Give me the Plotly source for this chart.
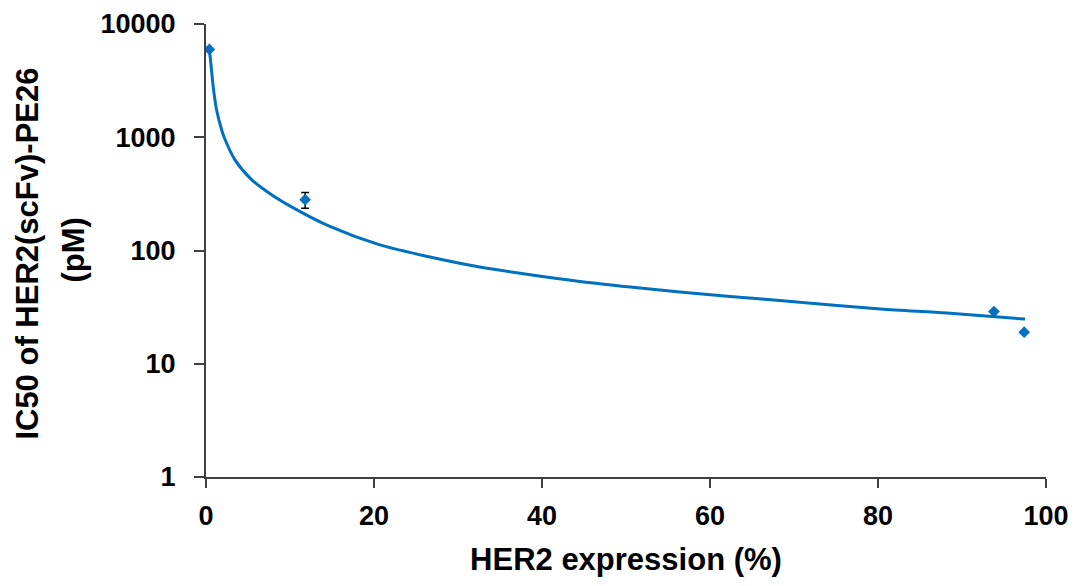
import plotly.graph_objects as go

# Measured data points (HER2 expression %, IC50 pM)
point_x = [0.4, 11.8, 93.8, 97.4]
point_y = [5960, 281, 28.9, 19.0]
point_err = [0, 45, 0, 0]

# Trend curve
curve_x = [0.4, 0.57, 0.85, 1.25, 1.85, 2.16, 3.43, 5.42, 7.8, 10.4, 14.75, 20.7,
           26.66, 32.6, 38.6, 44.5, 50.5, 56.4, 62.4, 68.3, 80.3, 88.2, 97.5]
curve_y = [5960, 4550, 2825, 1758, 1170, 1000, 635, 423, 311, 238, 163, 112,
           87.7, 71.5, 61.1, 53.3, 47.6, 43, 39.3, 36.2, 30.4, 28, 24.8]

x_ticks = [0, 20, 40, 60, 80, 100]
y_ticks = [1, 10, 100, 1000, 10000]
y_ticktext = ["1", "10", "100", "1000", "10000"]

x_title = "HER2 expression (%)"
y_title_1 = "IC50 of HER2(scFv)-PE26"
y_title_2 = "(pM)"

BLUE = "#0070C0"
AXIS = "#404040"
FONT = "Liberation Sans, Arial, sans-serif"

fig = go.Figure()
fig.add_trace(go.Scatter(
    x=curve_x, y=curve_y, mode="lines",
    line=dict(color=BLUE, width=3, shape="spline", smoothing=0.8),
    hoverinfo="skip", showlegend=False,
))
fig.add_trace(go.Scatter(
    x=point_x, y=point_y, mode="markers",
    marker=dict(symbol="diamond", size=9, color=BLUE),
    error_y=dict(type="data", array=point_err, visible=True,
                 color="black", thickness=1.5, width=4),
    showlegend=False,
))

fig.update_layout(
    width=1077, height=586,
    margin=dict(l=206, r=31, t=24, b=109, autoexpand=False),
    paper_bgcolor="white", plot_bgcolor="white",
    font=dict(family=FONT, color="black"),
    xaxis=dict(
        range=[0, 100], tickvals=x_ticks,
        showline=True, linecolor=AXIS, linewidth=2,
        ticks="outside", ticklen=9, tickwidth=1.5, tickcolor=AXIS,
        showgrid=False, zeroline=False,
        tickfont=dict(family=FONT, size=27, weight="bold", color="black"),
        ticklabelstandoff=5,
        title=dict(text=x_title, standoff=18,
                   font=dict(family=FONT, size=31, weight="bold", color="black")),
    ),
    yaxis=dict(
        type="log", range=[0, 4], tickvals=y_ticks, ticktext=y_ticktext,
        showline=True, linecolor=AXIS, linewidth=2,
        ticks="outside", ticklen=10, tickwidth=1.5, tickcolor=AXIS,
        showgrid=False, zeroline=False,
        tickfont=dict(family=FONT, size=27, weight="bold", color="black"),
        ticklabelstandoff=13,
    ),
    annotations=[
        dict(text=y_title_1, xref="paper", yref="paper", x=0, y=0.492,
             xshift=-178.5, textangle=-90, showarrow=False,
             xanchor="center", yanchor="middle",
             font=dict(family=FONT, size=31, weight="bold", color="black")),
        dict(text=y_title_2, xref="paper", yref="paper", x=0, y=0.5,
             xshift=-133, textangle=-90, showarrow=False,
             xanchor="center", yanchor="middle",
             font=dict(family=FONT, size=31, weight="bold", color="black")),
    ],
)

fig.write_html("out.html", config={"displayModeBar": False},
               post_script="document.body.style.margin='0';document.body.style.overflow='hidden';")
